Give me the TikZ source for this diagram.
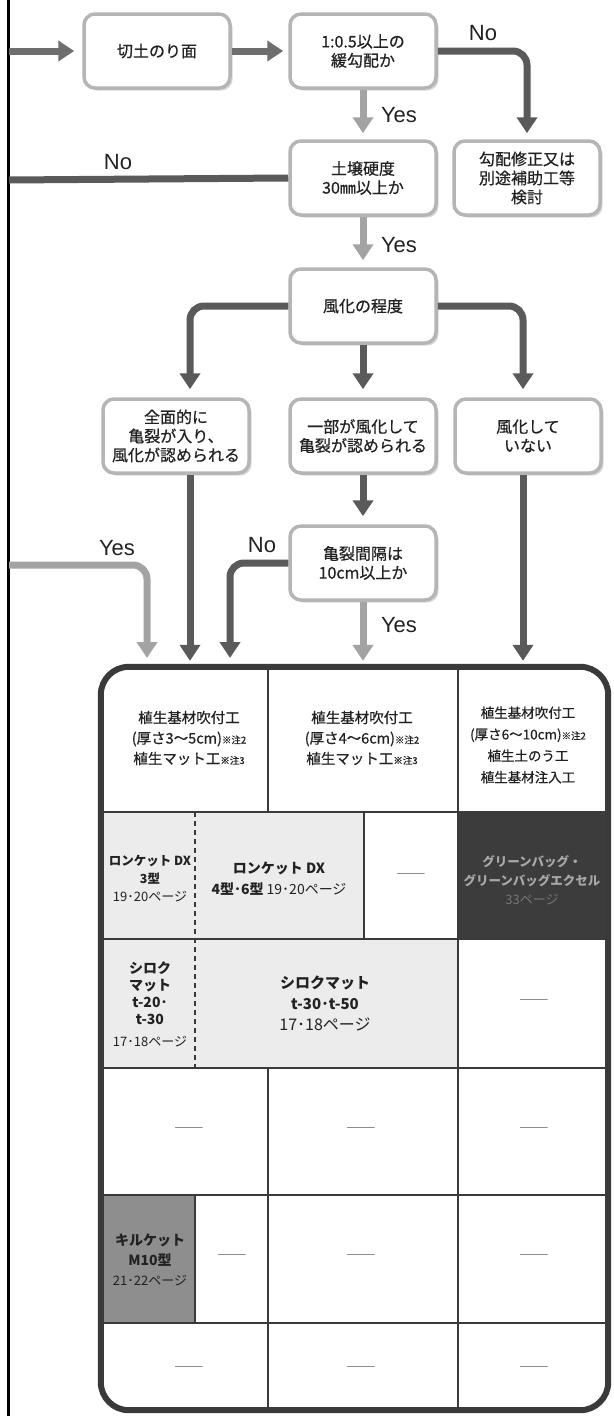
\documentclass[tikz,border=0pt]{standalone}
\usepackage{fontspec}
\setmainfont{Noto Sans CJK JP}
\newfontfamily\jpmed{Noto Sans CJK JP}[FakeBold=0.6]
\newfontfamily\lat{Liberation Sans}
\usetikzlibrary{arrows.meta,shadows}
\definecolor{boxline}{HTML}{B5B5B5}
\definecolor{darr}{HTML}{5A5A5A}
\definecolor{marr}{HTML}{6E6E6E}
\definecolor{larr}{HTML}{A3A3A3}
\definecolor{tline}{HTML}{3A3A3A}
\definecolor{lfill}{HTML}{ECECEC}
\definecolor{dfill}{HTML}{3C3C3C}
\definecolor{gfill}{HTML}{8E8E8E}
\definecolor{gtxt}{HTML}{A8A8A8}
\definecolor{gtxtb}{HTML}{767676}
\definecolor{ink}{HTML}{222222}
\newcommand\notemark[1]{{\fontsize{9.5}{10}\selectfont ※注#1}}
\newcommand\dashmark{\scalebox{2.3}[1]{―}}
\begin{document}
\begin{tikzpicture}[x=1pt,y=-1pt,
  flowbox/.style={draw=boxline, line width=3.5pt, rounded corners=11pt, fill=white,
    minimum width=146pt, minimum height=74pt, align=center, inner sep=0pt, text=ink,
    font=\jpmed\fontsize{16}{19}\selectfont,
    drop shadow={shadow xshift=2.5pt, shadow yshift=-2.5pt, opacity=0.3}},
  arr/.style={line width=7pt, -{Triangle[length=16pt,width=20pt]}},
  lnk/.style={line width=7pt},
  lbl/.style={font=\lat\fontsize{22}{22}\selectfont, text=ink, inner sep=0pt},
  cell/.style={align=center, inner sep=0pt, text=ink},
  grid/.style={line width=2pt, tline},
  dsh/.style={inner sep=0pt, text=tline, font=\fontsize{14}{14}\selectfont}
]
\useasboundingbox (0,0) rectangle (613,1416);
\fill[white] (0,0) rectangle (613,1416);
\draw[line width=3pt, black] (8,0) -- (8,1416);

% flow boxes
\node[flowbox] (kiri) at (157,51) {切土のり面};
\node[flowbox] (kyu)  at (363,51) {1:0.5以上の\\緩勾配か};
\node[flowbox] (doj)  at (363,178) {土壌硬度\\30㎜以上か};
\node[flowbox] (hos)  at (527,178) {勾配修正又は\\別途補助工等\\検討};
\node[flowbox] (fuka) at (363,306) {風化の程度};
\node[flowbox] (zen)  at (176,436) {全面的に\\亀裂が入り、\\風化が認められる};
\node[flowbox] (ichi) at (363,436) {一部が風化して\\亀裂が認められる};
\node[flowbox] (nai)  at (528,436) {風化して\\いない};
\node[flowbox] (kir)  at (363,563) {亀裂間隔は\\10cm以上か};

% table frame node (invisible, used for anchors)
\node[inner sep=0pt, minimum width=507pt, minimum height=743pt] (tbl) at (354.5,1038.5) {};

\coordinate (L1) at (9,51);
\coordinate (L2) at (9,180);
\coordinate (L3) at (9,565);
\coordinate (T1) at (147,664);
\coordinate (T2) at (230,664);

% connectors
\draw[arr, marr, shorten >=8pt] (L1) -- (kiri);
\draw[arr, marr, shorten >=5pt] (kiri) -- (kyu);
\draw[arr, darr, rounded corners=14pt, shorten >=6pt] (kyu.east) -| (hos.north);
\draw[arr, larr, shorten >=6pt] (kyu) -- (doj);
\draw[lnk, darr] (doj.west) -- (L2);
\draw[arr, larr, shorten >=7pt] (doj) -- (fuka);
\draw[arr, darr, rounded corners=14pt, shorten >=8pt] (fuka.west) -| ([xshift=14pt]zen.north);
\draw[arr, darr, shorten >=8pt] (fuka) -- (ichi);
\draw[arr, darr, rounded corners=14pt, shorten >=8pt] (fuka.east) -| ([xshift=-5pt]nai.north);
\draw[arr, darr, shorten >=6pt] ([xshift=14pt]zen.south) -- ([xshift=14pt]zen.south |- tbl.north);
\draw[arr, darr, shorten >=8pt] (ichi) -- (kir);
\draw[arr, darr, rounded corners=14pt, shorten >=6pt] (kir.west) -| (T2);
\draw[arr, larr, rounded corners=14pt, shorten >=6pt] (L3) -| (T1);
\draw[arr, larr, shorten >=6pt] (kir) -- (kir |- tbl.north);
\draw[arr, darr, shorten >=6pt] ([xshift=-5pt]nai.south) -- ([xshift=-5pt]nai.south |- tbl.north);

% labels
\node[lbl] (n1) at (483,33) {No};
\node[lbl] (y1) at (399,115) {Yes};
\node[lbl] (n2) at (118,162) {No};
\node[lbl] (y2) at (399,245) {Yes};
\node[lbl] (y3) at (117,548) {Yes};
\node[lbl] (n3) at (262,545) {No};
\node[lbl] (y4) at (399,625) {Yes};

% table fills
\fill[lfill] (101,812) rectangle (364,939);
\fill[lfill] (101,939) rectangle (458,1068);
\fill[dfill] (458,812) rectangle (608,939);
\fill[gfill] (101,1195) rectangle (195,1323);

% grid
\foreach \yy in {812,939,1068,1195,1323} \draw[grid] (101,\yy) -- (608,\yy);
\draw[grid] (268,667) -- (268,812);
\draw[grid] (268,1068) -- (268,1410);
\draw[grid] (458,667) -- (458,1410);
\draw[grid] (364,812) -- (364,939);
\draw[grid] (195,1195) -- (195,1323);
\draw[line width=2.5pt, tline, dash pattern=on 5pt off 4pt] (195,812) -- (195,1068);
\draw[line width=6pt, tline, rounded corners=28pt] (tbl.north west) rectangle (tbl.south east);

% row 1
\node[cell, font=\jpmed\fontsize{14.5}{20.5}\selectfont] (c11) at (189,738)
  {植生基材吹付工\\(厚さ3〜5cm)\notemark{2}\\植生マット工\notemark{3}};
\node[cell, font=\jpmed\fontsize{14.5}{20.5}\selectfont] (c12) at (362,738)
  {植生基材吹付工\\(厚さ4〜6cm)\notemark{2}\\植生マット工\notemark{3}};
\node[cell, font=\jpmed\fontsize{13.5}{21.5}\selectfont] (c13) at (528,745)
  {植生基材吹付工\\(厚さ6〜10cm)\notemark{2}\\植生土のう工\\植生基材注入工};

% row 2
\node[cell, font=\fontsize{12.5}{18}\selectfont] (c21) at (150,879)
  {\bfseries ロンケット DX\\\bfseries 3型\\\fontsize{13}{18}\selectfont 19･20ページ};
\node[cell, font=\fontsize{14}{21}\selectfont] (c22) at (279,879)
  {\bfseries ロンケット DX\\{\bfseries 4型･6型} 19･20ページ};
\node[dsh] (c23) at (411,877) {\dashmark};
\node[cell, font=\fontsize{12.5}{19}\selectfont] (c24) at (532,880)
  {\textcolor{gtxt}{\bfseries グリーンバッグ・}\\\textcolor{gtxt}{\bfseries グリーンバッグエクセル}\\\textcolor{gtxtb}{\fontsize{13}{19}\selectfont 33ページ}};

% row 3
\node[cell, font=\fontsize{14}{17}\selectfont] (c31) at (150,1004)
  {\bfseries シロク\\\bfseries マット\\\bfseries t-20･\\\bfseries t-30\\[5pt]\fontsize{13}{17}\selectfont 17･18ページ};
\node[cell, font=\fontsize{15}{21}\selectfont] (c32) at (325,1003)
  {\bfseries シロクマット\\\bfseries t-30･t-50\\\fontsize{16}{21}\selectfont 17･18ページ};
\node[dsh] (c33) at (534,1003) {\dashmark};

% row 4
\node[dsh] (c41) at (189,1131) {\dashmark};
\node[dsh] (c42) at (361,1131) {\dashmark};
\node[dsh] (c43) at (534,1131) {\dashmark};

% row 5
\node[cell, font=\fontsize{14}{20}\selectfont] (c51) at (150,1260)
  {\bfseries キルケット\\\bfseries M10型\\\fontsize{13}{20}\selectfont 21･22ページ};
\node[dsh] (c52) at (232,1258) {\dashmark};
\node[dsh] (c53) at (361,1258) {\dashmark};
\node[dsh] (c54) at (534,1258) {\dashmark};

% row 6
\node[dsh] (c61) at (189,1370) {\dashmark};
\node[dsh] (c62) at (361,1370) {\dashmark};
\node[dsh] (c63) at (534,1370) {\dashmark};
\end{tikzpicture}
\end{document}
